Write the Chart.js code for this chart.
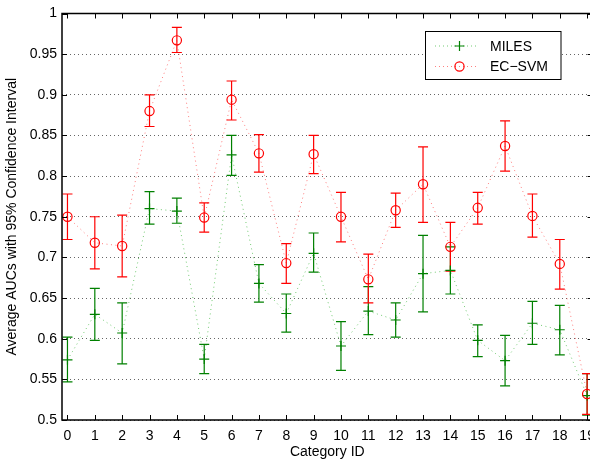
<!DOCTYPE html>
<html lang="en">
<head>
<meta charset="UTF-8">
<title>MILES vs EC-SVM AUC</title>
<script src="https://cdn.jsdelivr.net/npm/chart.js"></script>
<style>
  html, body { margin: 0; padding: 0; background: #fff; overflow: hidden; }
  #wrap { position: relative; width: 610px; height: 461px; }
</style>
</head>
<body>
<div id="wrap"><canvas id="chart"></canvas></div>
<script>
const categories = [0, 1, 2, 3, 4, 5, 6, 7, 8, 9, 10, 11, 12, 13, 14, 15, 16, 17, 18, 19];

const milesAuc  = [0.574, 0.630, 0.607, 0.760, 0.757, 0.575, 0.826, 0.668, 0.631, 0.705, 0.591, 0.634, 0.623, 0.680, 0.684, 0.598, 0.573, 0.619, 0.611, 0.530];
const milesLow  = [0.547, 0.598, 0.569, 0.741, 0.742, 0.557, 0.801, 0.645, 0.608, 0.682, 0.561, 0.605, 0.602, 0.633, 0.655, 0.578, 0.542, 0.593, 0.580, 0.506];
const milesHigh = [0.602, 0.662, 0.644, 0.781, 0.773, 0.593, 0.850, 0.691, 0.655, 0.730, 0.621, 0.664, 0.644, 0.727, 0.713, 0.617, 0.604, 0.646, 0.641, 0.557];

const ecsvmAuc  = [0.750, 0.718, 0.714, 0.880, 0.967, 0.749, 0.894, 0.828, 0.693, 0.827, 0.750, 0.673, 0.758, 0.790, 0.713, 0.761, 0.837, 0.751, 0.692, 0.532];
const ecsvmLow  = [0.722, 0.686, 0.676, 0.861, 0.952, 0.731, 0.869, 0.805, 0.668, 0.803, 0.719, 0.644, 0.737, 0.743, 0.683, 0.741, 0.806, 0.725, 0.661, 0.507];
const ecsvmHigh = [0.778, 0.750, 0.752, 0.900, 0.983, 0.767, 0.917, 0.851, 0.717, 0.850, 0.780, 0.704, 0.779, 0.836, 0.743, 0.780, 0.868, 0.778, 0.722, 0.557];

const seriesNames = ['MILES', 'EC\u2212SVM'];
const yTicks = [0.5, 0.55, 0.6, 0.65, 0.7, 0.75, 0.8, 0.85, 0.9, 0.95, 1];

const FONT = '"Liberation Sans", Arial, Helvetica, sans-serif';
const GREEN = '#008000';
const RED = '#ff0000';

function pts(vals) {
  return categories.map((c, i) => ({ x: c, y: vals[i] }));
}

// error bars, frame, inward ticks and legend box
const decor = {
  id: 'decor',
  beforeDatasetsDraw(chart) {
    const ctx = chart.ctx, xs = chart.scales.x, ys = chart.scales.y;
    const bars = [[milesLow, milesHigh, GREEN], [ecsvmLow, ecsvmHigh, RED]];
    ctx.save();
    ctx.lineWidth = 1.2;
    bars.forEach(([lo, hi, col]) => {
      ctx.strokeStyle = col;
      categories.forEach((c, i) => {
        const px = xs.getPixelForValue(c);
        const y1 = ys.getPixelForValue(lo[i]);
        const y2 = ys.getPixelForValue(hi[i]);
        ctx.beginPath();
        ctx.moveTo(px, y1); ctx.lineTo(px, y2);
        ctx.moveTo(px - 5, y1); ctx.lineTo(px + 5, y1);
        ctx.moveTo(px - 5, y2); ctx.lineTo(px + 5, y2);
        ctx.stroke();
      });
    });
    ctx.restore();
  },
  afterDraw(chart) {
    const ctx = chart.ctx, a = chart.chartArea;
    const xs = chart.scales.x, ys = chart.scales.y;
    ctx.save();
    ctx.strokeStyle = '#000';
    ctx.lineWidth = 1.5;
    ctx.strokeRect(a.left, a.top, a.right - a.left, a.bottom - a.top);
    ctx.lineWidth = 1;
    ctx.beginPath();
    categories.forEach(c => {
      const px = Math.round(xs.getPixelForValue(c)) + 0.5;
      ctx.moveTo(px, a.bottom); ctx.lineTo(px, a.bottom - 5);
      ctx.moveTo(px, a.top); ctx.lineTo(px, a.top + 5);
    });
    yTicks.forEach(v => {
      const py = Math.round(ys.getPixelForValue(v)) + 0.5;
      ctx.moveTo(a.left, py); ctx.lineTo(a.left + 5, py);
      ctx.moveTo(a.right, py); ctx.lineTo(a.right - 5, py);
    });
    ctx.stroke();

    // legend
    const bx = 425.5, by = 31.5, bw = 135.5, bh = 48;
    ctx.fillStyle = '#fff';
    ctx.fillRect(bx, by, bw, bh);
    ctx.lineWidth = 1;
    ctx.strokeStyle = '#000';
    ctx.strokeRect(bx, by, bw, bh);
    const rows = [by + 14.5, by + 35];
    chart.data.datasets.forEach((ds, i) => {
      const y = rows[i];
      const mx = 459.5, r = ds.pointRadius;
      ctx.save();
      ctx.strokeStyle = ds.borderColor;
      ctx.setLineDash([1, 3]);
      ctx.beginPath();
      ctx.moveTo(435, y); ctx.lineTo(479, y);
      ctx.stroke();
      ctx.restore();
      ctx.strokeStyle = ds.pointBorderColor;
      ctx.lineWidth = ds.pointBorderWidth;
      ctx.beginPath();
      if (ds.pointStyle === 'cross') {
        ctx.moveTo(mx - r, y); ctx.lineTo(mx + r, y);
        ctx.moveTo(mx, y - r); ctx.lineTo(mx, y + r);
      } else {
        ctx.arc(mx, y, r, 0, Math.PI * 2);
      }
      ctx.stroke();
      ctx.fillStyle = '#000';
      ctx.font = '14px ' + FONT;
      ctx.textBaseline = 'middle';
      ctx.fillText(seriesNames[i], 490, y + 1);
    });
    ctx.restore();
  }
};

new Chart(document.getElementById('chart'), {
  type: 'line',
  data: {
    datasets: [
      {
        label: seriesNames[0],
        data: pts(milesAuc),
        order: 2,
        borderColor: 'rgba(0,160,0,0.55)',
        borderWidth: 1,
        borderDash: [1, 3.5],
        pointStyle: 'cross',
        pointRadius: 5,
        pointBorderWidth: 1.2,
        pointBorderColor: GREEN,
        pointBackgroundColor: GREEN,
        fill: false,
        tension: 0
      },
      {
        label: seriesNames[1],
        data: pts(ecsvmAuc),
        order: 1,
        borderColor: 'rgba(255,0,0,0.5)',
        borderWidth: 1,
        borderDash: [1, 3.5],
        pointStyle: 'circle',
        pointRadius: 4.6,
        pointBorderWidth: 1.2,
        pointBorderColor: RED,
        pointBackgroundColor: 'rgba(0,0,0,0)',
        fill: false,
        tension: 0
      }
    ]
  },
  options: {
    responsive: true,
    maintainAspectRatio: false,
    animation: false,
    devicePixelRatio: 1,
    layout: { padding: { top: 13.5, right: 17.4, left: 0, bottom: 0 } },
    plugins: {
      legend: { display: false },
      tooltip: { enabled: false }
    },
    scales: {
      x: {
        type: 'linear',
        min: -0.2,
        max: 19.2,
        grid: { display: false, drawTicks: false },
        border: { display: false },
        ticks: {
          stepSize: 1,
          includeBounds: false,
          autoSkip: false,
          maxRotation: 0,
          padding: 8,
          color: '#000',
          font: { family: FONT, size: 14 }
        },
        title: {
          display: true,
          text: 'Category ID',
          color: '#000',
          font: { family: FONT, size: 14 },
          padding: { top: 0, bottom: 0 }
        },
        afterFit(scale) { scale.height = 41; }
      },
      y: {
        min: 0.5,
        max: 1,
        grid: { color: 'rgba(0,0,0,0.6)', lineWidth: 1, drawTicks: false },
        border: { display: false, dash: [1, 3] },
        ticks: {
          stepSize: 0.05,
          padding: 5,
          color: '#000',
          font: { family: FONT, size: 14 },
          callback: v => String(+v.toFixed(2))
        },
        title: {
          display: true,
          text: 'Average AUCs with 95% Confidence Interval',
          color: '#000',
          font: { family: FONT, size: 14 },
          padding: { top: 4, bottom: 0 }
        },
        afterFit(scale) { scale.width = 62; }
      }
    }
  },
  plugins: [decor]
});
</script>
</body>
</html>
